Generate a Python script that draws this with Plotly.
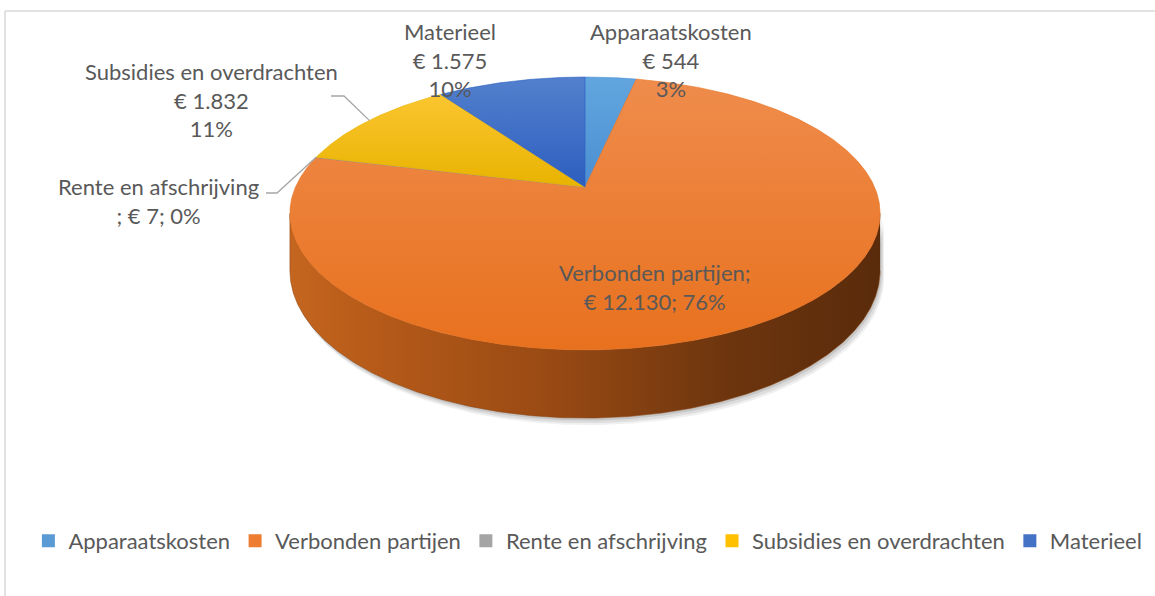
import numpy as np
import plotly.graph_objects as go

# ---------------- data ----------------
categories = ["Apparaatskosten", "Verbonden partijen", "Rente en afschrijving",
              "Subsidies en overdrachten", "Materieel"]
values = [544, 12130, 7, 1832, 1575]
value_labels = ["€ 544", "€ 12.130", "€ 7", "€ 1.832", "€ 1.575"]
pct_labels = ["3%", "76%", "0%", "11%", "10%"]

# ---------------- style ----------------
colors = ["#5B9BD5", "#ED7D31", "#A5A5A5", "#FFC000", "#4472C4"]
# (top colour, bottom colour) for the top face gradient
top_grad = [("#62A6DF", "#4A8ED2"), ("#EF8C4C", "#E8711E"), ("#B0B0B0", "#999999"),
            ("#FBC530", "#E8B300"), ("#5380CD", "#2C5EBF")]
FONT = "Lato"
TXT = "#595959"
FS = 22
W, H = 1155, 596

# 3D pie geometry (pixel space)
CX, CY = 585.0, 187.0
A, B = 289.5, 131.3
K = 0.194
DEPTH = 55.0


def proj(phi_deg):
    p = np.radians(phi_deg)
    sx, sy = np.sin(p), np.cos(p)
    s = 1.0 / (1.0 + K * sy)
    return CX + A * sx * s, CY - B * sy * s, s


total = float(sum(values))
fracs = [v / total for v in values]
starts = np.concatenate([[0.0], np.cumsum(fracs)[:-1]]) * 360.0
ends = np.cumsum(fracs) * 360.0

fig = go.Figure()

# side (front rim) of the disk
phiR = np.degrees(np.arccos(-K))
phiL = 360.0 - phiR
ph = np.linspace(phiR, phiL, 400)
tx, ty, ts = proj(ph)
bx, by = tx, ty + DEPTH * ts

# soft shadow
for dx, dy, a in [(4, 7, 0.06), (3, 5, 0.08), (1.5, 2.5, 0.10)]:
    fig.add_trace(go.Scatter(
        x=np.concatenate([tx, bx[::-1]]) + dx, y=np.concatenate([ty, by[::-1]]) + dy,
        mode="lines", fill="toself", line=dict(width=0), fillcolor=f"rgba(0,0,0,{a})",
        hoverinfo="skip", showlegend=False))

fig.add_trace(go.Scatter(
    x=np.concatenate([tx, bx[::-1]]), y=np.concatenate([ty, by[::-1]]),
    mode="lines", fill="toself", line=dict(width=0.5, color="#8A4513"),
    fillgradient=dict(type="horizontal",
                      colorscale=[[0, "#C4661F"], [0.12, "#B85C1A"], [0.45, "#984913"],
                                  [0.75, "#6C350E"], [1, "#5A2B0B"]]),
    hoverinfo="skip", showlegend=False))

# top face slices
for i, cat in enumerate(categories):
    n = max(int((ends[i] - starts[i]) * 3), 2)
    ph = np.linspace(starts[i], ends[i], n)
    x, y, _ = proj(ph)
    xs = np.concatenate([[CX], x, [CX]])
    ys = np.concatenate([[CY], y, [CY]])
    fig.add_trace(go.Scatter(
        x=xs, y=ys, mode="lines", fill="toself",
        line=dict(width=0.6, color=top_grad[i][1]),
        fillgradient=dict(type="vertical",
                          colorscale=[[0, top_grad[i][1]], [1, top_grad[i][0]]]),
        hoverinfo="skip", showlegend=False, name=cat))

# legend entries
for i, cat in enumerate(categories):
    fig.add_trace(go.Scatter(
        x=[None], y=[None], mode="markers", name=cat,
        marker=dict(symbol="square", size=13, color=colors[i]),
        hoverinfo="skip"))

# data labels
label_pos = {
    0: (671, 60, "{c}<br>{v}<br>{p}"),
    1: (655, 287, "{c};<br>{v}; {p}"),
    2: (158, 201, "{c}<br>; {v}; {p}"),
    3: (211, 100, "{c}<br>{v}<br>{p}"),
    4: (450, 60, "{c}<br>{v}<br>{p}"),
}
for i, (lx, ly, fmt) in label_pos.items():
    fig.add_annotation(
        x=lx, y=ly, xref="x", yref="y", showarrow=False,
        text=fmt.format(c=categories[i], v=value_labels[i], p=pct_labels[i]),
        font=dict(family=FONT, size=FS, color=TXT),
        xanchor="center", yanchor="middle", align="center")

# leader lines (end on slice rim at mid-angle)
leaders = {3: (331, 344, 96), 2: (266, 277, 193)}
for i, (x0, x1, yl) in leaders.items():
    mx, my, _ = proj((starts[i] + ends[i]) / 2.0)
    fig.add_trace(go.Scatter(
        x=[x0, x1, mx], y=[yl, yl, my], mode="lines",
        line=dict(color="#A6A6A6", width=1.3),
        hoverinfo="skip", showlegend=False))

# chart frame
fig.add_shape(type="line", x0=5, x1=W, y0=11, y1=11, xref="x", yref="y",
              line=dict(color="#D9D9D9", width=1.5))
fig.add_shape(type="line", x0=5, x1=5, y0=11, y1=H, xref="x", yref="y",
              line=dict(color="#D9D9D9", width=1.5))

fig.update_layout(
    width=W, height=H,
    margin=dict(l=0, r=0, t=0, b=0),
    paper_bgcolor="white", plot_bgcolor="white",
    xaxis=dict(range=[0, W], visible=False, fixedrange=True),
    yaxis=dict(range=[H, 0], visible=False, fixedrange=True),
    showlegend=True,
    legend=dict(orientation="h", x=0.509, xanchor="center", y=1 - 541 / H, yanchor="middle",
                font=dict(family=FONT, size=FS, color=TXT), itemwidth=30,
                traceorder="normal", bgcolor="rgba(0,0,0,0)"),
)

fig.write_html("out.html", config={"displayModeBar": False},
               post_script="document.body.style.margin='0';document.body.style.overflow='hidden';")
